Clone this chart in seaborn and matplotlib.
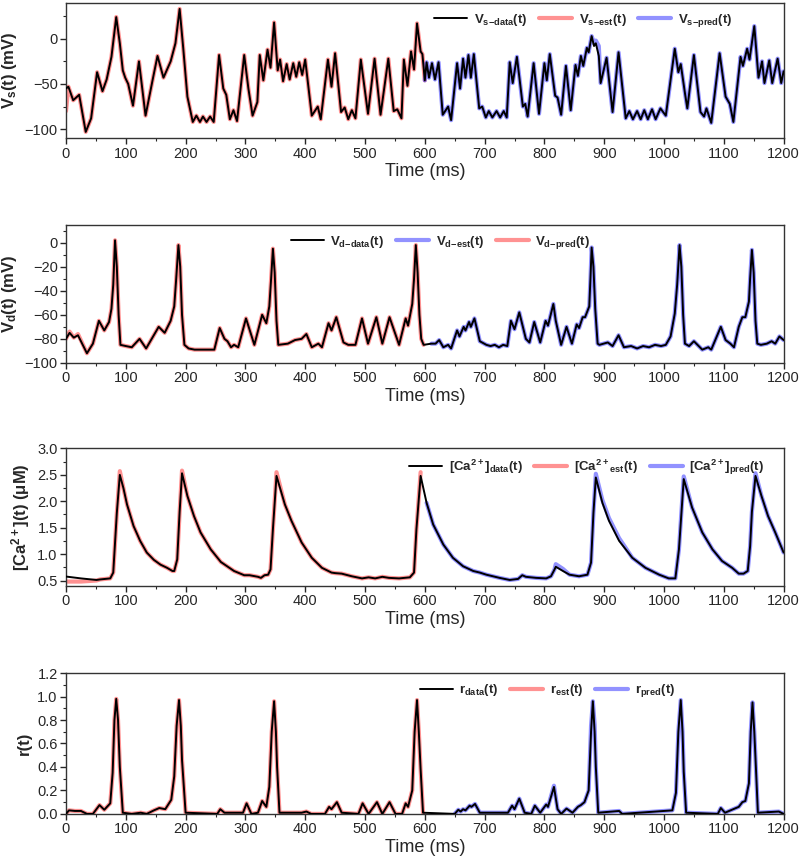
import matplotlib
matplotlib.use("Agg")
import matplotlib.pyplot as plt
from matplotlib.ticker import MultipleLocator
import pandas as pd
import seaborn as sns

# ---- data (knots at peaks / troughs) ----
vs_t = [0, 4, 12, 22, 33, 42, 52, 61, 68, 76, 84, 90, 95, 99, 104, 112, 122, 133, 145, 153,
        163, 175, 183, 190, 196, 203, 212, 218, 224, 229, 235, 241, 247, 256, 263, 268, 274, 280,
        286, 298, 305, 312, 320, 324, 330, 337, 342, 348, 354, 358, 363, 369, 374, 380, 385, 390,
        395, 400, 411, 421, 426, 438, 444, 450, 460, 466, 472, 478, 484, 493, 505, 516, 526, 539,
        548, 554, 561, 565, 571, 577, 582, 587, 593, 596, 600, 603, 607, 612, 617, 623, 630, 639,
        644, 654, 659, 664, 668, 673, 677, 682, 691, 696, 702, 707, 713, 720, 726, 732, 737, 742,
        747, 754, 764, 768, 772, 782, 791, 800, 804, 809, 818, 822, 828, 836, 844, 852, 856, 861,
        865, 871, 874, 879, 883, 886, 891, 894, 904, 914, 924, 936, 942, 948, 955, 961, 967, 973,
        980, 986, 994, 1003, 1018, 1024, 1028, 1035, 1039, 1050, 1061, 1067, 1071, 1079, 1093,
        1103, 1110, 1116, 1128, 1132, 1139, 1143, 1151, 1158, 1164, 1168, 1176, 1181, 1190, 1196,
        1200]
vs_v = [-55, -53, -68, -62, -103, -88, -37, -58, -45, -20, 24, -5, -35, -43, -50, -74, -25, -85,
        -45, -19, -43, -25, -5, 33, -10, -64, -92, -85, -92, -86, -92, -86, -92, -18, -55, -62,
        -89, -79, -91, -18, -55, -85, -70, -18, -46, -12, -32, 18, -35, -23, -47, -28, -45, -27,
        -42, -26, -40, -23, -85, -75, -89, -23, -53, -16, -81, -76, -89, -79, -88, -23, -83, -22,
        -84, -22, -80, -78, -88, -23, -52, -14, -34, 17, -14, -17, -46, -26, -43, -27, -45, -26,
        -84, -75, -90, -27, -55, -22, -43, -18, -43, -17, -77, -75, -87, -80, -87, -80, -87, -80,
        -87, -26, -49, -20, -75, -72, -86, -27, -83, -27, -46, -17, -63, -65, -84, -30, -79, -29,
        -41, -19, -30, -10, -15, 3, -8, -5, -19, -49, -21, -81, -15, -88, -80, -89, -80, -89, -79,
        -89, -78, -89, -77, -85, -11, -37, -28, -60, -77, -18, -81, -86, -77, -93, -16, -64, -72,
        -92, -20, -30, -11, -23, 14, -43, -25, -49, -24, -49, -22, -49, -36]
vs_est_fix = {0: -80}
vs_pred_fix = {883: -5, 886: -2, 891: -8}

vd_t = [0, 6, 13, 20, 35, 45, 55, 64, 72, 76, 79, 82, 85, 88, 91, 100, 110, 123, 134, 155, 165,
        175, 181, 184, 188, 191, 194, 198, 205, 215, 225, 235, 248, 257, 265, 270, 276, 281, 288,
        301, 315, 328, 335, 340, 343, 346, 349, 352, 355, 371, 383, 394, 402, 411, 422, 428, 439,
        444, 452, 464, 472, 484, 495, 505, 519, 529, 541, 557, 568, 572, 579, 582, 585, 588, 591,
        594, 598, 611, 618, 624, 631, 639, 644, 654, 658, 665, 668, 674, 677, 683, 692, 703, 710,
        717, 724, 731, 738, 744, 750, 758, 769, 775, 783, 793, 802, 806, 815, 819, 828, 837, 846,
        854, 858, 864, 868, 875, 877, 879, 882, 885, 889, 892, 906, 914, 924, 933, 945, 955, 965,
        975, 985, 995, 1003, 1011, 1018, 1022, 1026, 1029, 1032, 1035, 1042, 1050, 1064, 1074,
        1079, 1095, 1103, 1111, 1117, 1125, 1131, 1136, 1142, 1144, 1147, 1150, 1153, 1156, 1162,
        1172, 1180, 1186, 1193, 1200]
vd_v = [-80, -75, -79, -77, -92, -84, -65, -73, -66, -55, -35, 2, -20, -60, -85, -86, -87, -80,
        -88, -70, -75, -65, -53, -32, -2, -20, -60, -85, -88, -89, -89, -89, -89, -71, -80, -82,
        -87, -85, -87, -63, -85, -60, -67, -53, -30, -5, -25, -65, -85, -84, -81, -80, -76, -87,
        -84, -87, -67, -73, -62, -83, -85, -85, -63, -84, -62, -84, -62, -85, -63, -69, -51, -30,
        -2, -25, -60, -80, -85, -84, -84, -81, -87, -85, -88, -73, -78, -70, -73, -66, -70, -63,
        -82, -85, -86, -85, -87, -85, -86, -65, -72, -58, -80, -83, -66, -83, -65, -69, -51, -65,
        -85, -70, -84, -68, -71, -62, -62, -53, -30, -4, -20, -55, -84, -85, -83, -86, -77, -87,
        -86, -88, -86, -87, -85, -86, -85, -78, -59, -35, -2, -20, -60, -84, -86, -82, -89, -87,
        -89, -70, -81, -84, -87, -70, -62, -62, -49, -30, -6, -25, -65, -84, -85, -84, -82, -84,
        -78, -81]
vd_est_fix = {6: -74, 20: -76}
vd_pred_fix = {}

ca_t = [0, 25, 51, 57, 74, 79, 85, 90, 96, 102, 113, 124, 135, 147, 158, 169, 178, 181, 186,
        190, 194, 203, 214, 225, 242, 259, 281, 298, 307, 321, 326, 332, 338, 342, 346, 352, 366,
        377, 394, 411, 428, 444, 450, 461, 478, 495, 506, 517, 529, 540, 557, 575, 582, 586, 593,
        603, 614, 631, 647, 664, 681, 692, 703, 725, 742, 756, 763, 769, 786, 803, 811, 817, 819,
        831, 842, 858, 872, 878, 882, 886, 897, 908, 925, 947, 969, 992, 1008, 1019, 1025, 1033,
        1047, 1064, 1081, 1097, 1114, 1125, 1133, 1140, 1144, 1147, 1153, 1163, 1174, 1186, 1200]
ca_v = [0.575, 0.54, 0.51, 0.52, 0.54, 0.65, 1.78, 2.50, 2.25, 1.94, 1.53, 1.25, 1.03, 0.89,
        0.80, 0.74, 0.68, 0.68, 0.90, 1.80, 2.53, 2.10, 1.72, 1.41, 1.09, 0.85, 0.68, 0.60, 0.60,
        0.57, 0.55, 0.60, 0.61, 0.71, 1.47, 2.48, 1.94, 1.63, 1.22, 0.93, 0.74, 0.65, 0.64, 0.63,
        0.58, 0.54, 0.56, 0.54, 0.57, 0.55, 0.54, 0.56, 0.65, 1.47, 2.48, 1.97, 1.56, 1.18, 0.93,
        0.77, 0.68, 0.65, 0.61, 0.55, 0.51, 0.53, 0.60, 0.57, 0.55, 0.54, 0.58, 0.71, 0.76, 0.68,
        0.61, 0.58, 0.61, 0.84, 1.78, 2.45, 1.97, 1.63, 1.25, 0.93, 0.74, 0.61, 0.54, 0.54, 1.09,
        2.42, 1.88, 1.41, 1.09, 0.87, 0.74, 0.63, 0.63, 0.68, 1.15, 1.80, 2.48, 2.10, 1.72, 1.41,
        1.03]
ca_est_fix = {0: 0.48, 25: 0.48, 51: 0.50, 90: 2.57, 194: 2.58, 352: 2.55, 593: 2.55}
ca_pred_fix = {819: 0.81, 831: 0.72, 886: 2.52, 897: 2.02, 908: 1.68, 925: 1.30, 1033: 2.47,
               1153: 2.53}

r_t = [0, 5, 15, 25, 35, 45, 56, 64, 74, 78, 81, 84, 87, 90, 95, 110, 125, 135, 147, 156, 166,
       176, 181, 185, 189, 192, 194, 200, 253, 258, 265, 296, 302, 310, 321, 328, 335, 340, 344,
       348, 351, 353, 357, 394, 402, 410, 433, 440, 444, 453, 461, 489, 496, 506, 520, 529, 541,
       551, 562, 568, 572, 579, 583, 587, 590, 593, 597, 650, 656, 660, 664, 668, 675, 678, 684,
       692, 739, 746, 750, 758, 767, 778, 784, 793, 803, 806, 816, 822, 828, 837, 847, 856, 861,
       867, 874, 878, 881, 884, 886, 890, 925, 930, 1014, 1020, 1024, 1028, 1031, 1033, 1037,
       1090, 1095, 1102, 1125, 1131, 1136, 1142, 1145, 1148, 1151, 1154, 1157, 1192, 1200]
r_v = [0.0, 0.03, 0.025, 0.025, 0.0, 0.0, 0.075, 0.035, 0.09, 0.35, 0.8, 0.98, 0.8, 0.40, 0.01,
       0.0, 0.01, 0.0, 0.03, 0.05, 0.04, 0.12, 0.32, 0.75, 0.97, 0.75, 0.46, 0.01, 0.0, 0.04,
       0.01, 0.01, 0.09, 0.0, 0.01, 0.11, 0.06, 0.23, 0.7, 0.96, 0.7, 0.4, 0.01, 0.01, 0.02, 0.0,
       0.0, 0.06, 0.04, 0.10, 0.01, 0.0, 0.09, 0.0, 0.10, 0.0, 0.10, 0.0, 0.0, 0.09, 0.06, 0.20,
       0.7, 0.97, 0.7, 0.38, 0.01, 0.0, 0.035, 0.02, 0.04, 0.03, 0.07, 0.06, 0.085, 0.01, 0.01,
       0.07, 0.04, 0.13, 0.01, 0.0, 0.07, 0.01, 0.08, 0.06, 0.23, 0.04, 0.0, 0.045, 0.01, 0.06,
       0.075, 0.10, 0.20, 0.7, 0.96, 0.7, 0.40, 0.01, 0.025, 0.0, 0.03, 0.18, 0.7, 0.97, 0.7,
       0.36, 0.01, 0.0, 0.05, 0.01, 0.06, 0.10, 0.11, 0.26, 0.7, 0.95, 0.7, 0.36, 0.01, 0.02, 0.0]
r_est_fix = {}
r_pred_fix = {816: 0.24, 878: 0.75, 884: 0.76}

xticks = list(range(0, 1201, 100))


def segment(t, v, lo, hi, fix):
    rows = [(a, fix.get(a, b)) for a, b in zip(t, v) if lo <= a <= hi]
    return pd.DataFrame(rows, columns=["t", "v"])


sns.set_style("ticks")
plt.rcParams["font.family"] = ["Liberation Sans", "DejaVu Sans"]
plt.rcParams["mathtext.fontset"] = "custom"
plt.rcParams["mathtext.rm"] = "Liberation Sans"
plt.rcParams["mathtext.it"] = "Liberation Sans:italic"
plt.rcParams["mathtext.bf"] = "Liberation Sans:bold"
plt.rcParams["axes.edgecolor"] = "#333333"
plt.rcParams["axes.linewidth"] = 1.0
plt.rcParams["lines.solid_joinstyle"] = "round"

RED = "#ff4a4a"
BLUE = "#4a4aff"

panels = [
    dict(t=vs_t, v=vs_v, ef=vs_est_fix, pf=vs_pred_fix, ylim=(-110, 40), major=50, minor=25,
         ylabel="V$_\\mathbf{s}$(t) (mV)", pos=[0.0825, 0.840, 0.897, 0.157], lx=0.50,
         labels=["V$_{\\mathbf{s{-}data}}$(t)", "V$_{\\mathbf{s{-}est}}$(t)",
                 "V$_{\\mathbf{s{-}pred}}$(t)"], swap=False),
    dict(t=vd_t, v=vd_v, ef=vd_est_fix, pf=vd_pred_fix, ylim=(-100, 15), major=20, minor=10,
         ylabel="V$_\\mathbf{d}$(t) (mV)", pos=[0.0825, 0.580, 0.897, 0.160], lx=0.30,
         labels=["V$_{\\mathbf{d{-}data}}$(t)", "V$_{\\mathbf{d{-}est}}$(t)",
                 "V$_{\\mathbf{d{-}pred}}$(t)"], swap=True),
    dict(t=ca_t, v=ca_v, ef=ca_est_fix, pf=ca_pred_fix, ylim=(0.4, 3.0), major=0.5, minor=0.25,
         ylabel="[Ca$^{\\mathbf{2+}}$](t) (\u03bcM)", pos=[0.0825, 0.322, 0.897, 0.159], lx=0.465,
         labels=["[Ca$^{\\mathbf{2+}}$]$_{\\mathbf{data}}$(t)",
                 "[Ca$^{\\mathbf{2+}}{}_{\\mathbf{est}}$(t)",
                 "[Ca$^{\\mathbf{2+}}$]$_{\\mathbf{pred}}$(t)"], swap=False),
    dict(t=r_t, v=r_v, ef=r_est_fix, pf=r_pred_fix, ylim=(0, 1.2), major=0.2, minor=0.1,
         ylabel="r(t)", pos=[0.0825, 0.058, 0.897, 0.163], lx=0.48,
         labels=["r$_{\\mathbf{data}}$(t)", "r$_{\\mathbf{est}}$(t)", "r$_{\\mathbf{pred}}$(t)"],
         swap=False),
]

fig = plt.figure(figsize=(8, 8.64), dpi=100)

for p in panels:
    ax = fig.add_axes(p["pos"])
    data = pd.DataFrame({"t": p["t"], "v": p["v"]})
    est = segment(p["t"], p["v"], 0, 600, p["ef"])
    pred = segment(p["t"], p["v"], 600, 1200, p["pf"])

    sns.lineplot(data=data, x="t", y="v", ax=ax, color="black", lw=1.4, zorder=3,
                 sort=False, estimator=None)
    # in the V_d panel the legend lists the blue line before the red one
    first, second = ((pred, BLUE), (est, RED)) if p["swap"] else ((est, RED), (pred, BLUE))
    for seg, col in (first, second):
        sns.lineplot(data=seg, x="t", y="v", ax=ax, color=col, lw=3, alpha=0.6, zorder=2,
                     sort=False, estimator=None)
    handles = ax.get_lines()[:3]

    ax.legend(handles, p["labels"], loc="upper left", bbox_to_anchor=(p["lx"], 1.0),
              ncol=3, frameon=False, prop={"weight": "bold", "size": 9.5},
              handlelength=2.5, columnspacing=0.9, handletextpad=0.5, borderaxespad=0.3)

    ax.set_xlim(0, 1200)
    ax.set_ylim(*p["ylim"])
    ax.set_xticks(xticks)
    ax.xaxis.set_minor_locator(MultipleLocator(50))
    ax.yaxis.set_major_locator(MultipleLocator(p["major"]))
    ax.yaxis.set_minor_locator(MultipleLocator(p["minor"]))
    ax.tick_params(which="major", direction="out", length=4, width=1, labelsize=10.5,
                   top=False, right=False, pad=2)
    ax.tick_params(which="minor", direction="out", length=2.5, width=0.8,
                   top=False, right=False)
    ax.set_xlabel("Time (ms)", fontsize=13, labelpad=2)
    ax.set_ylabel(p["ylabel"], fontsize=12, fontweight="bold", labelpad=4)

fig.savefig("out.png", dpi=100)
